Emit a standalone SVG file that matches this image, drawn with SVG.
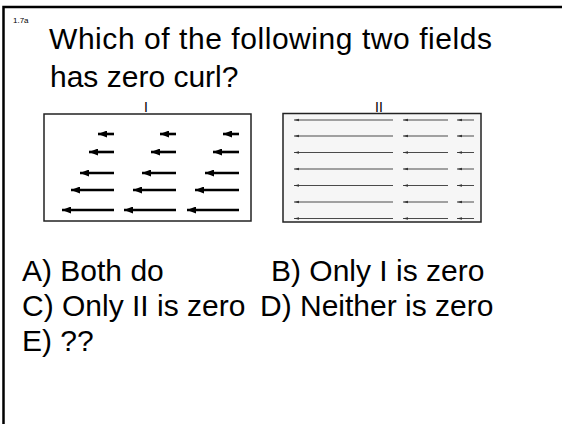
<svg xmlns="http://www.w3.org/2000/svg" width="562" height="424" viewBox="0 0 562 424">
<style>
text{font-family:"Liberation Sans",Arial,sans-serif;fill:#000}
.t{font-size:30px}
.a{font-size:30px}
.lbl{font-size:14px}
.small{font-size:8px}
.f1{stroke:#000;stroke-width:2.6;marker-end:url(#h1)}
.f2{stroke:#4a4a4a;stroke-width:1;marker-end:url(#h2)}
</style>
<defs>
<marker id="h1" markerUnits="userSpaceOnUse" markerWidth="10" markerHeight="7" refX="9" refY="3.5" orient="auto"><path d="M0,0 L9,3.5 L0,7 z" fill="#000"/></marker>
<marker id="h2" markerUnits="userSpaceOnUse" markerWidth="6" markerHeight="4" refX="5" refY="2" orient="auto"><path d="M0,0.7 L5,2 L0,3.3 z" fill="#333"/></marker>
</defs>
<g id="frame">
<path d="M3.5,424 V7 H562" fill="none" stroke="#000" stroke-width="2.5"/>
</g>
<text class="small" x="13" y="23">1.7a</text>
<g id="title">
<text class="t" x="49" y="49" textLength="443" lengthAdjust="spacing">Which of the following two fields</text>
<text class="t" x="50" y="87">has zero curl?</text>
</g>
<g id="fieldI">
<text class="lbl" x="146" y="112" text-anchor="middle">I</text>
<rect x="44" y="114" width="207" height="107" fill="#fff" stroke="#222" stroke-width="1.5"/>
<g id="arrowsI">
<line class="f1" x1="114" y1="134" x2="98" y2="134"/>
<line class="f1" x1="176" y1="134" x2="160" y2="134"/>
<line class="f1" x1="239" y1="134" x2="223" y2="134"/>
<line class="f1" x1="114" y1="152" x2="89" y2="152"/>
<line class="f1" x1="176" y1="152" x2="151" y2="152"/>
<line class="f1" x1="239" y1="152" x2="213" y2="152"/>
<line class="f1" x1="114" y1="173" x2="80" y2="173"/>
<line class="f1" x1="176" y1="173" x2="142" y2="173"/>
<line class="f1" x1="239" y1="173" x2="205" y2="173"/>
<line class="f1" x1="114" y1="190" x2="71" y2="190"/>
<line class="f1" x1="176" y1="190" x2="133" y2="190"/>
<line class="f1" x1="239" y1="190" x2="195" y2="190"/>
<line class="f1" x1="114" y1="210" x2="62" y2="210"/>
<line class="f1" x1="176" y1="210" x2="124" y2="210"/>
<line class="f1" x1="239" y1="210" x2="187" y2="210"/>
</g>
</g>
<g id="fieldII">
<text class="lbl" x="379" y="112" text-anchor="middle">II</text>
<rect x="283" y="113.5" width="198" height="108.5" fill="#f6f6f6" stroke="#222" stroke-width="1.5"/>
<g id="arrowsII">
<line class="f2" x1="393" y1="120" x2="294" y2="120"/><line class="f2" x1="448" y1="120" x2="403" y2="120"/><line class="f2" x1="474" y1="120" x2="457" y2="120"/>
<line class="f2" x1="393" y1="136" x2="294" y2="136"/><line class="f2" x1="448" y1="136" x2="403" y2="136"/><line class="f2" x1="474" y1="136" x2="457" y2="136"/>
<line class="f2" x1="393" y1="152.5" x2="294" y2="152.5"/><line class="f2" x1="448" y1="152.5" x2="403" y2="152.5"/><line class="f2" x1="474" y1="152.5" x2="457" y2="152.5"/>
<line class="f2" x1="393" y1="169" x2="294" y2="169"/><line class="f2" x1="448" y1="169" x2="403" y2="169"/><line class="f2" x1="474" y1="169" x2="457" y2="169"/>
<line class="f2" x1="393" y1="185.5" x2="294" y2="185.5"/><line class="f2" x1="448" y1="185.5" x2="403" y2="185.5"/><line class="f2" x1="474" y1="185.5" x2="457" y2="185.5"/>
<line class="f2" x1="393" y1="202" x2="294" y2="202"/><line class="f2" x1="448" y1="202" x2="403" y2="202"/><line class="f2" x1="474" y1="202" x2="457" y2="202"/>
<line class="f2" x1="393" y1="218.5" x2="294" y2="218.5"/><line class="f2" x1="448" y1="218.5" x2="403" y2="218.5"/><line class="f2" x1="474" y1="218.5" x2="457" y2="218.5"/>
</g>
</g>
<g id="answers">
<text class="a" x="22" y="281">A) Both do</text>
<text class="a" x="271" y="281">B) Only I is zero</text>
<text class="a" x="22" y="316">C) Only II is zero</text>
<text class="a" x="260" y="316">D) Neither is zero</text>
<text class="a" x="22" y="351">E) ??</text>
</g>
</svg>
